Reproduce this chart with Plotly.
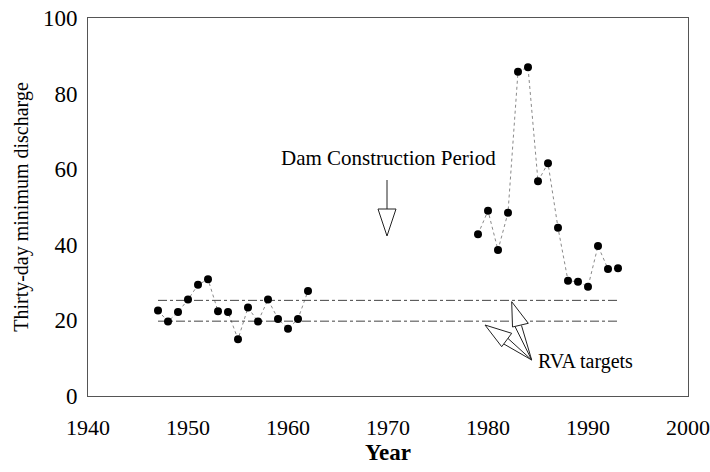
import plotly.graph_objects as go

# ---- data ----
pre_years = [1947, 1948, 1949, 1950, 1951, 1952, 1953, 1954, 1955, 1956, 1957, 1958, 1959, 1960, 1961, 1962]
pre_values = [22.6, 19.7, 22.2, 25.5, 29.4, 30.9, 22.4, 22.2, 15.0, 23.4, 19.7, 25.5, 20.4, 17.8, 20.4, 27.8]
post_years = [1979, 1980, 1981, 1982, 1983, 1984, 1985, 1986, 1987, 1988, 1989, 1990, 1991, 1992, 1993]
post_values = [42.8, 49.0, 38.6, 48.5, 85.8, 87.0, 56.8, 61.6, 44.5, 30.5, 30.2, 28.9, 39.7, 33.6, 33.8]
rva_span = [1947, 1993]
rva_upper = 25.3
rva_lower = 19.8
x_ticks = [1940, 1950, 1960, 1970, 1980, 1990, 2000]
y_ticks = [0, 20, 40, 60, 80, 100]

FONT = "Liberation Serif"

fig = go.Figure()

for xs, ys in [(pre_years, pre_values), (post_years, post_values)]:
    fig.add_trace(go.Scatter(
        x=xs, y=ys, mode="lines",
        line=dict(color="#8a8a8a", width=1, dash="dot"),
        showlegend=False, hoverinfo="skip"))

for v in [rva_upper, rva_lower]:
    fig.add_trace(go.Scatter(
        x=rva_span, y=[v, v], mode="lines",
        line=dict(color="#444444", width=1, dash="dashdot"),
        showlegend=False, hoverinfo="skip"))

for xs, ys in [(pre_years, pre_values), (post_years, post_values)]:
    fig.add_trace(go.Scatter(
        x=xs, y=ys, mode="markers",
        marker=dict(color="black", size=8),
        showlegend=False))

# helper to convert reference pixel positions to data coordinates for callouts
def px(xp, yp):
    return 1940 + (xp - 88) / 10.0, (396 - yp) / 3.78

def path_of(points, close=False):
    pts = [px(a, b) for a, b in points]
    s = "M " + " L ".join(f"{x:.3f},{y:.3f}" for x, y in pts)
    return s + (" Z" if close else "")

line_style = dict(color="#222222", width=1)

shapes = []
# Dam construction arrow
shapes.append(dict(type="path", xref="x", yref="y", path=path_of([(387, 180), (387, 209)]), line=line_style))
shapes.append(dict(type="path", xref="x", yref="y",
                   path=path_of([(378, 209), (396, 209), (387, 236)], close=True),
                   line=line_style, fillcolor="white"))
# RVA arrows
shapes.append(dict(type="path", xref="x", yref="y",
                   path=path_of([(515, 326.5), (531.7, 360), (521.5, 325.5)]), line=line_style))
shapes.append(dict(type="path", xref="x", yref="y",
                   path=path_of([(511.7, 301.7), (512.5, 327), (528.3, 323.3)], close=True),
                   line=line_style, fillcolor="white"))
shapes.append(dict(type="path", xref="x", yref="y",
                   path=path_of([(503, 343.5), (531.7, 360), (507.5, 338)]), line=line_style))
shapes.append(dict(type="path", xref="x", yref="y",
                   path=path_of([(485, 325), (501.7, 346.7), (511.7, 333.3)], close=True),
                   line=line_style, fillcolor="white"))

dx, dy = px(388, 158)
rx, ry = px(536, 361)
annotations = [
    dict(x=dx, y=dy, xref="x", yref="y", text="Dam Construction Period", showarrow=False,
         font=dict(family=FONT, size=21, color="black"), xanchor="center", yanchor="middle"),
    dict(x=rx, y=ry, xref="x", yref="y", text="RVA targets", showarrow=False,
         font=dict(family=FONT, size=20, color="black"), xanchor="left", yanchor="middle"),
]

fig.update_layout(
    width=710, height=472,
    margin=dict(l=88, r=22, t=18, b=76),
    paper_bgcolor="white", plot_bgcolor="white",
    shapes=shapes, annotations=annotations,
    xaxis=dict(range=[1940, 2000], tickvals=x_ticks, ticks="", showgrid=False, zeroline=False,
               showline=True, mirror=True, linecolor="#555555", linewidth=1, automargin=False,
               ticklabeloverflow="allow",
               tickfont=dict(family=FONT, size=22, color="black"), ticklabelstandoff=12,
               title=dict(text="<b>Year</b>", font=dict(family=FONT, size=23, color="black"), standoff=2)),
    yaxis=dict(range=[0, 100], tickvals=y_ticks, ticks="", showgrid=False, zeroline=False,
               showline=True, mirror=True, linecolor="#555555", linewidth=1, automargin=False,
               ticklabeloverflow="allow",
               tickfont=dict(family=FONT, size=23, color="black"), ticklabelstandoff=5,
               tickprefix="<b>", ticksuffix="</b>",
               title=dict(text="Thirty-day minimum discharge", font=dict(family=FONT, size=20, color="black"), standoff=8)),
)

fig.write_html("out.html", config={"displayModeBar": False},
               post_script="document.body.style.margin='0';document.body.style.overflow='hidden';")
